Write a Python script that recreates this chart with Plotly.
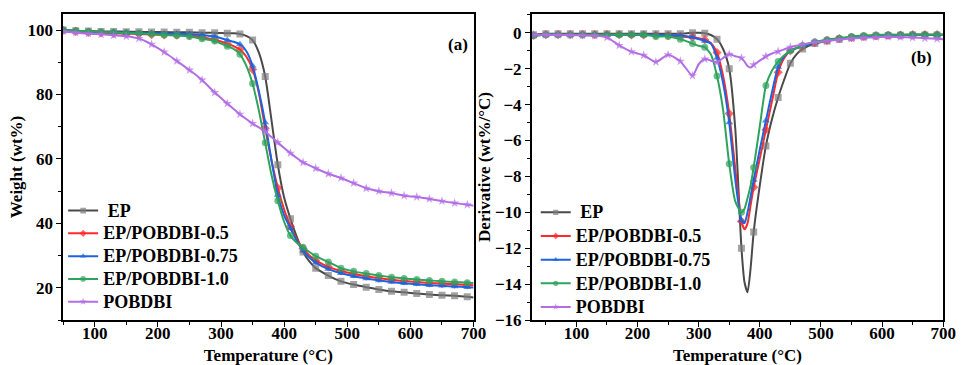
import plotly.graph_objects as go

# ---------------- TGA data: temperature (°C) and residual weight (wt%) ----------------
T_TGA = [50, 70, 90, 110, 130, 150, 170, 190, 210, 230, 250, 270, 290, 310, 320, 330, 340,
         350, 360, 370, 380, 390, 400, 410, 420, 430, 440, 450, 470, 490, 510, 530, 550,
         570, 590, 610, 630, 650, 670, 690, 700]

W_EP = [100, 99.8, 99.7, 99.6, 99.6, 99.5, 99.5, 99.4, 99.4, 99.3, 99.3, 99.2, 99.2, 99.0,
        99.0, 98.8, 98.2, 96.9, 93.0, 85.6, 72.0, 58.2, 48.0, 41.4, 35.8, 31.1, 28.2, 26.1,
        23.8, 22.0, 21.0, 20.2, 19.5, 18.9, 18.6, 18.2, 17.9, 17.7, 17.5, 17.2, 17.0]
W_05 = [100, 99.6, 99.3, 99.1, 99.0, 98.9, 98.8, 98.6, 98.5, 98.4, 98.3, 97.8, 97.0, 95.8,
        95.0, 94.0, 91.8, 87.8, 80.5, 69.5, 59.5, 51.0, 44.3, 39.0, 35.0, 32.2, 30.0, 28.5,
        26.5, 25.2, 24.3, 23.6, 23.0, 22.5, 22.1, 21.8, 21.5, 21.3, 21.1, 20.9, 20.8]
W_075 = [100, 99.7, 99.5, 99.4, 99.3, 99.2, 99.1, 99.0, 98.9, 98.9, 98.8, 98.5, 98.0, 96.9,
         96.4, 95.6, 93.5, 88.9, 81.0, 71.3, 59.5, 48.8, 42.5, 38.5, 34.5, 31.5, 29.4, 27.8,
         25.8, 24.5, 23.6, 22.9, 22.3, 21.8, 21.4, 21.1, 20.8, 20.6, 20.4, 20.2, 20.1]
W_10 = [100, 99.8, 99.6, 99.4, 99.3, 99.1, 99.0, 98.8, 98.5, 98.3, 98.0, 97.3, 96.6, 95.0,
        94.2, 92.5, 89.0, 83.4, 75.0, 65.0, 55.0, 47.0, 40.5, 36.2, 34.0, 32.6, 31.1, 29.8,
        28.0, 26.1, 25.1, 24.4, 23.8, 23.3, 22.9, 22.6, 22.3, 22.0, 21.8, 21.6, 21.5]
W_POB = [99.6, 99.2, 98.9, 98.7, 98.4, 98.1, 97.4, 95.6, 93.2, 90.4, 87.6, 84.5, 80.6, 77.2,
         75.5, 73.9, 72.4, 71.0, 69.8, 68.5, 66.8, 65.1, 63.4, 61.8, 60.3, 58.9, 58.0, 57.1,
         55.4, 54.1, 52.5, 50.9, 50.0, 49.4, 48.6, 48.2, 47.6, 46.9, 46.3, 45.8, 45.5]

# ---------------- DTG data: temperature (°C) and derivative (wt%/°C) ----------------
T_DTG = [30, 50, 70, 90, 110, 130, 150, 170, 190, 210, 230, 250, 270, 290, 300, 310, 320,
         330, 340, 350, 360, 370, 375, 380, 385, 390, 400, 410, 420, 430, 440, 450, 460,
         470, 490, 510, 530, 550, 570, 590, 610, 630, 650, 670, 690, 700]

D_EP = [-0.1, -0.05, -0.05, -0.05, -0.05, -0.05, -0.05, -0.05, -0.05, -0.05, -0.05, -0.05,
        -0.05, 0.0, 0.0, -0.02, -0.12, -0.35, -0.9, -2.0, -5.4, -12.0, -13.9, -14.45, -13.1,
        -11.1, -8.5, -6.3, -4.8, -3.6, -2.6, -1.7, -1.2, -0.9, -0.6, -0.45, -0.35, -0.28,
        -0.22, -0.18, -0.15, -0.13, -0.12, -0.12, -0.12, -0.12]
D_05 = [-0.15, -0.1, -0.1, -0.1, -0.1, -0.1, -0.1, -0.1, -0.12, -0.12, -0.13, -0.15, -0.2,
        -0.25, -0.3, -0.38, -0.57, -1.1, -2.4, -4.5, -7.6, -10.5, -10.95, -10.6, -9.6, -8.6,
        -7.0, -5.4, -3.8, -2.2, -1.4, -1.0, -0.85, -0.75, -0.55, -0.42, -0.32, -0.25, -0.2,
        -0.16, -0.13, -0.12, -0.1, -0.1, -0.1, -0.1]
D_075 = [-0.15, -0.1, -0.1, -0.1, -0.1, -0.1, -0.1, -0.1, -0.1, -0.1, -0.12, -0.13, -0.15,
         -0.25, -0.35, -0.45, -0.6, -1.4, -2.8, -5.0, -8.2, -10.45, -10.6, -10.0, -9.1, -8.2,
         -6.5, -4.9, -3.3, -1.9, -1.3, -1.0, -0.85, -0.75, -0.55, -0.42, -0.32, -0.25, -0.2,
         -0.16, -0.13, -0.12, -0.1, -0.1, -0.1, -0.1]
D_10 = [-0.15, -0.1, -0.1, -0.1, -0.1, -0.1, -0.1, -0.1, -0.1, -0.11, -0.2, -0.2, -0.35,
        -0.6, -0.72, -0.8, -1.2, -2.4, -4.3, -7.3, -9.4, -10.0, -9.8, -9.2, -8.5, -7.5,
        -5.2, -2.94, -2.1, -1.6, -1.25, -1.0, -0.85, -0.7, -0.5, -0.38, -0.3, -0.2, -0.15,
        -0.12, -0.1, -0.1, -0.1, -0.1, -0.1, -0.1]
D_POB = [-0.1, -0.11, -0.12, -0.13, -0.14, -0.16, -0.25, -0.7, -1.05, -1.25, -1.62, -1.22,
         -1.58, -2.39, -1.75, -1.46, -1.55, -1.64, -1.4, -1.19, -1.3, -1.4, -1.6, -1.85,
         -1.93, -1.78, -1.55, -1.31, -1.15, -1.04, -0.92, -0.8, -0.72, -0.65, -0.53, -0.45,
         -0.38, -0.32, -0.27, -0.24, -0.22, -0.24, -0.26, -0.3, -0.33, -0.35]

NAMES = ["\u00a0EP", "EP/POBDBI-0.5", "EP/POBDBI-0.75", "EP/POBDBI-1.0", "POBDBI"]
LINE_COLORS = ["#4a4a4a", "#ff2a2a", "#1a64e0", "#2ea35c", "#b36ee6"]
MARKER_COLORS = ["#7d7d7d", "#ff2a2a", "#1a64e0", "#2ea35c", "#b36ee6"]
SYMBOLS = ["square", "diamond", "triangle-up", "circle", "star"]

FONT = "Liberation Serif"


def marker_sizes(temps, start, size=7):
    # a marker every 20 °C, intermediate samples drawn as line only
    return [size if (t - start) % 20 == 0 and t < 700 else 0 for t in temps]


def legend_label(name):
    # larger text than the legend's base font keeps the entries tightly stacked
    return f'<span style="font-size:18px">{name}</span>'


fig = go.Figure()

tga_sets = [W_EP, W_05, W_075, W_10, W_POB]
dtg_sets = [D_EP, D_05, D_075, D_10, D_POB]
m_tga = marker_sizes(T_TGA, 50)
m_dtg = marker_sizes(T_DTG, 30)

for i, w in enumerate(tga_sets):
    fig.add_trace(go.Scatter(
        x=T_TGA, y=w, name=legend_label(NAMES[i]), mode="lines+markers",
        line=dict(color=LINE_COLORS[i], width=2, shape="spline", smoothing=0.6),
        marker=dict(symbol=SYMBOLS[i], size=m_tga, color=MARKER_COLORS[i], line=dict(width=0)),
        xaxis="x", yaxis="y", legend="legend"))

for i, d in enumerate(dtg_sets):
    fig.add_trace(go.Scatter(
        x=T_DTG, y=d, name=legend_label(NAMES[i]), mode="lines+markers",
        line=dict(color=LINE_COLORS[i], width=2, shape="spline", smoothing=0.6),
        marker=dict(symbol=SYMBOLS[i], size=m_dtg, color=MARKER_COLORS[i], line=dict(width=0)),
        xaxis="x2", yaxis="y2", legend="legend2"))

W, H = 970, 365
tick_font = dict(family=FONT, size=17, color="black", weight="bold")
title_font = dict(family=FONT, size=17, color="black", weight="bold")

axis_common = dict(
    showline=True, linecolor="black", linewidth=1.6, mirror=True,
    ticks="outside", ticklen=5, tickwidth=1.4, tickcolor="black",
    showgrid=False, zeroline=False, tickfont=tick_font,
)
x_minor = dict(dtick=50, tick0=0, ticklen=3, tickcolor="black", ticks="outside")

fig.update_layout(
    width=W, height=H,
    margin=dict(l=0, r=0, t=14, b=43),
    paper_bgcolor="white", plot_bgcolor="white",
    xaxis=dict(domain=[64 / W, 480 / W], range=[50, 700], dtick=100, tick0=0,
               minor=x_minor, ticklabelstandoff=-8,
               title=dict(text="Temperature (°C)", font=title_font, standoff=10),
               anchor="y", **axis_common),
    yaxis=dict(domain=[0, 1], range=[10, 105], dtick=20, tick0=0,
               minor=dict(dtick=10, tick0=0, ticklen=3, tickcolor="black", ticks="outside"),
               title=dict(text="Weight (wt%)", font=title_font, standoff=0),
               anchor="x", **axis_common),
    xaxis2=dict(domain=[539 / W, 956 / W], range=[27, 700], dtick=100, tick0=0,
                minor=x_minor, ticklabelstandoff=-8,
                title=dict(text="Temperature (°C)", font=title_font, standoff=10),
                anchor="y2", **axis_common),
    yaxis2=dict(domain=[0, 1], range=[-16, 1.05], dtick=2, tick0=0,
                minor=dict(dtick=1, tick0=0, ticklen=3, tickcolor="black", ticks="outside"),
                title=dict(text="Derivative (wt%/°C)", font=title_font, standoff=0),
                anchor="x2", **axis_common),
    legend=dict(x=64 / W, y=0.411, xanchor="left", yanchor="top",
                bgcolor="rgba(0,0,0,0)", borderwidth=0,
                font=dict(family=FONT, size=15.2, color="black", weight="bold"),
                tracegroupgap=0),
    legend2=dict(x=543 / W, y=0.407, xanchor="left", yanchor="top",
                 bgcolor="rgba(0,0,0,0)", borderwidth=0,
                 font=dict(family=FONT, size=15.9, color="black", weight="bold"),
                 tracegroupgap=0),
    annotations=[
        dict(text="(a)", x=464 / W, y=(322 - 45) / 308, xref="paper", yref="paper",
             xanchor="center", yanchor="middle", showarrow=False,
             font=dict(family=FONT, size=17, color="black", weight="bold")),
        dict(text="(b)", x=934 / W, y=(322 - 58) / 308, xref="paper", yref="paper",
             xanchor="center", yanchor="middle", showarrow=False,
             font=dict(family=FONT, size=17, color="black", weight="bold")),
    ],
)

fig.write_html("out.html")
